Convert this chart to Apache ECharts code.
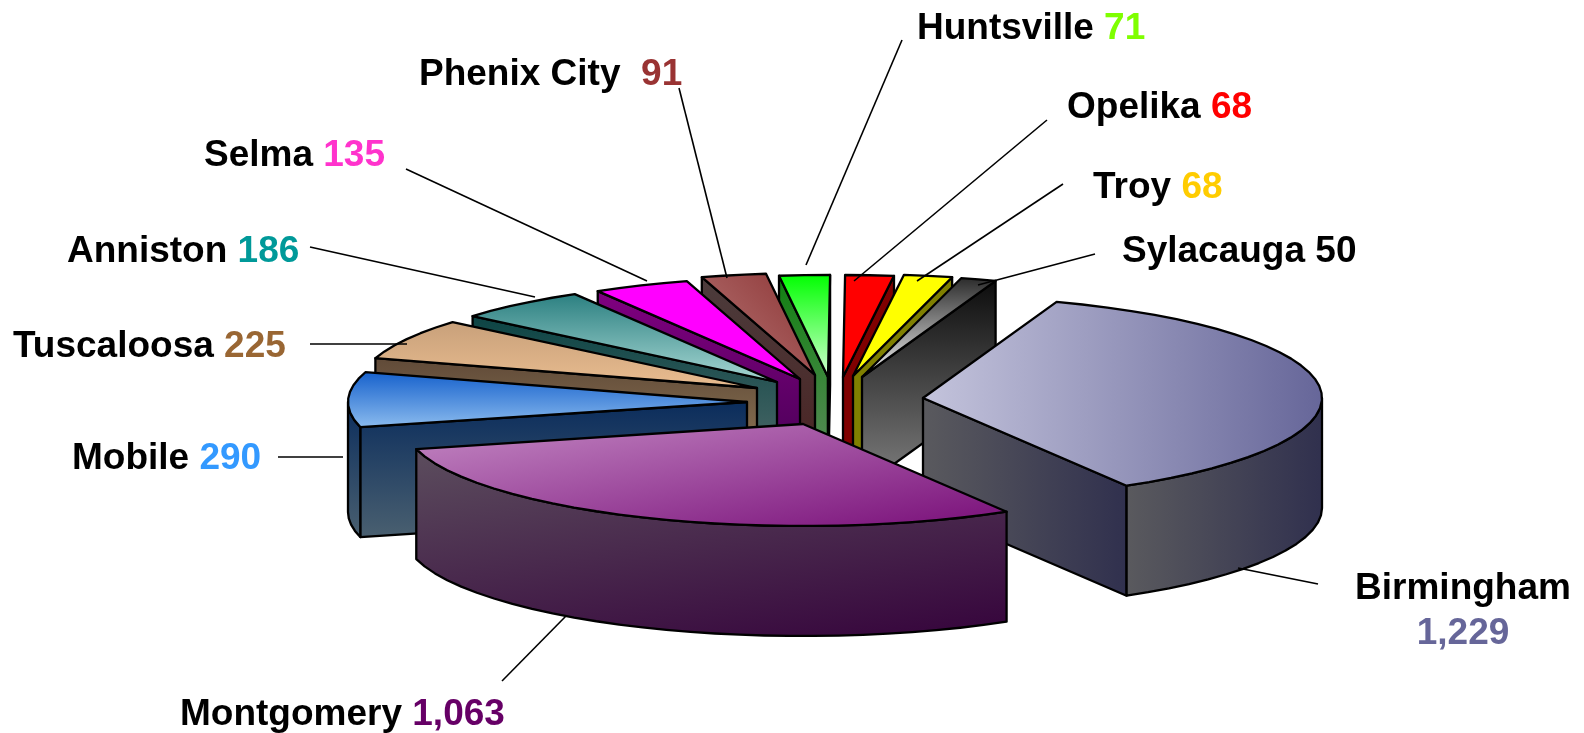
<!DOCTYPE html>
<html><head><meta charset="utf-8">
<style>html,body{margin:0;padding:0;background:#fff}#c{width:1584px;height:733px}</style>
<script src="https://cdn.jsdelivr.net/npm/echarts@6/dist/echarts.min.js"></script>
</head><body><div id="c"></div>
<script>
// ---- data (clockwise from 12 o'clock) ----
var cities = ['Opelika','Troy','Sylacauga','Birmingham','Montgomery','Mobile','Tuscaloosa','Anniston','Selma','Phenix City','Huntsville'];
var counts = [68,68,50,1229,1063,290,225,186,135,91,71];

// ---- styling ----
var valueColors = ['#ff0000','#ffcc00','#000000','#666699','#660066','#3399ff','#996633','#009999','#ff33cc','#993333','#7fff00'];
// gradient dir: v vertical, h horizontal, d/w/r slanted
var topFills = [['v','#ff0000','#ff0000'],['v','#ffff00','#ffff00'],['v','#2a2a2a','#f4f4f4'],['h','#c4c4dc','#666699'],['m','#c890c8','#801a80'],['v','#1560cc','#8cbcee'],['v','#c8a07a','#eabd90'],['v','#2a7f80','#a8d8d4'],['v','#ff00ff','#ff00ff'],['r','#8c3434','#b87878'],['v','#00ff00','#d4ffd4']];
var wallFills = [['v','#800000','#800000'],['v','#808000','#808000'],['v','#0c0c0c','#808080'],['h','#5a5a5e','#30304e'],['w','#5a4a5c','#38083e'],['v','#0a2c5c','#4a6070'],['v','#604a38','#a08860'],['v','#0c4444','#5a7070'],['v','#800080','#400050'],['v','#4c3c3c','#4a2020'],['v','#108010','#648c64']];
// painter rank, back to front
var paintRank = [0,2,4,9,10,8,7,6,5,3,1];

// ---- projection layout ----
var RX = 399, RY = 102, DEPTH = 110, START = 270.3;
var hubs = [[843,377],[853,376],[862,377],[923,398],[803,424],[747,402],[757,388],[777,382],[800,379],[815,375],[828,377]];
var labels = [
  {x:1067,y:121,from:[1047,120],to:[854,281]},
  {x:1093,y:201,from:[1063,184],to:[917,281]},
  {x:1122,y:265,from:[1095,254],to:[978,285]},
  {x:1463,y:579,from:[1318,584],to:[1238,568],center:true},
  {x:180,y:728,from:[502,681],to:[566,616]},
  {x:72,y:472,from:[278,457],to:[343,457]},
  {x:13,y:360,from:[310,344],to:[407,344]},
  {x:67,y:265,from:[310,247],to:[535,297]},
  {x:204,y:169,from:[406,169],to:[647,281]},
  {x:419,y:88,from:[679,88],to:[727,278],gap:true},
  {x:917,y:42,from:[902,40],to:[806,265]}
];

var total = counts.reduce(function(a,b){return a+b;},0);
var rad = Math.PI/180;
function warp(a){ // near-side foreshortening of the tilted disc
  var m = ((a%360)+360)%360;
  return m < 180 ? a + 2.7*Math.sin(2*m*rad) : a;
}
function rim(h,a){ var t = warp(a)*rad; return [h[0]+RX*Math.cos(t), h[1]+RY*Math.sin(t)]; }
function fill(f){
  var c = {v:[0,0,0,1],h:[0,0,1,0],m:[.63,-.76,.69,1.12],w:[.014,.07,.075,1.34],r:[1,0,0,1]}[f[0]];
  return {type:'linear',x:c[0],y:c[1],x2:c[2],y2:c[3],colorStops:[{offset:0,color:f[1]},{offset:1,color:f[2]}]};
}
function down(p){ return [p[0],p[1]+DEPTH]; }
function startAngle(i){
  var s = 0; for (var k=0;k<i;k++) s += counts[k];
  return START + echarts.number.linearMap(s,[0,total],[0,360]);
}

function renderItem(params, api){
  var i = params.dataIndex, v = api.value(0);
  var a0 = startAngle(i), a1 = a0 + echarts.number.linearMap(v,[0,total],[0,360]);
  var h = hubs[i], z = paintRank[i]+1, kids = [];
  function poly(pts,f,zz){
    kids.push({type:'polygon',z2:zz,silent:true,shape:{points:pts},
      style:{fill:fill(f),stroke:'#000',lineWidth:2.3,lineJoin:'round'}});
  }
  // radial cut faces
  var p0 = rim(h,a0), p1 = rim(h,a1);
  if (Math.cos(warp(a0)*rad) < 0) poly([h,p0,down(p0),down(h)],wallFills[i],z*10);
  if (Math.cos(warp(a1)*rad) > 0) poly([h,p1,down(p1),down(h)],wallFills[i],z*10);
  // outer wall, only the part on the near half
  [[360,540],[0,180]].forEach(function(r){
    var lo = Math.max(a0,r[0]), hi = Math.min(a1,r[1]);
    if (hi > lo){
      var up = [], n = Math.max(1,Math.ceil((hi-lo)/4));
      for (var k=0;k<=n;k++) up.push(rim(h,lo+(hi-lo)*k/n));
      poly(up.concat(up.slice().reverse().map(down)),wallFills[i],z*10+1);
    }
  });
  // top face
  var top = [h], m = Math.max(1,Math.ceil((a1-a0)/4));
  for (var k=0;k<=m;k++) top.push(rim(h,a0+(a1-a0)*k/m));
  poly(top,topFills[i],z*10+2);

  // leader + label
  var L = labels[i], name = cities[i], val = echarts.format.addCommas(v);
  kids.push({type:'line',z2:500,silent:true,shape:{x1:L.from[0],y1:L.from[1],x2:L.to[0],y2:L.to[1]},style:{stroke:'#000',lineWidth:1.6}});
  var txt = L.center ? '{n|'+name+'}\n{v|'+val+'}' : '{n|'+name+(L.gap?'  ':' ')+'}{v|'+val+'}';
  kids.push({type:'text',z2:600,silent:true,x:L.x,y:L.y-13,style:{
    text:txt,
    align:L.center?'center':'left',verticalAlign:L.center?'top':'middle',
    rich:{n:{font:'bold 37px "Liberation Sans"',fill:'#000',lineHeight:45},v:{font:'bold 37px "Liberation Sans"',fill:valueColors[i],lineHeight:45}}
  }});
  return {type:'group',children:kids};
}

var chart = echarts.init(document.getElementById('c'),null,{renderer:'canvas'});
chart.setOption({
  animation:false,
  backgroundColor:'#fff',
  series:[{type:'custom',coordinateSystem:'none',silent:true,clip:false,
    renderItem:renderItem,
    data:counts.map(function(v,i){return {name:cities[i],value:[v]};})
  }]
});
</script></body></html>
